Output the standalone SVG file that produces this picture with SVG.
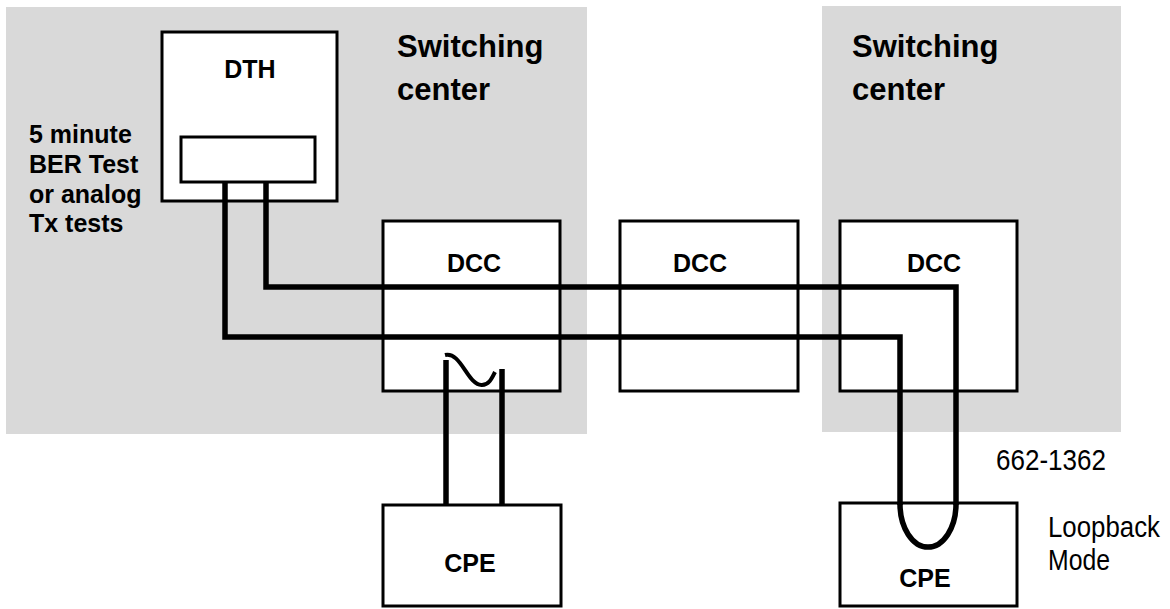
<svg xmlns="http://www.w3.org/2000/svg" width="1170" height="609" viewBox="0 0 1170 609">
  <style>
    .zone { fill: #d9d9d9; stroke: none; }
    .box { fill: #ffffff; stroke: #000000; stroke-width: 3; }
    .wire { fill: none; stroke: #000000; stroke-width: 5.5; stroke-linejoin: miter; stroke-linecap: butt; }
    .bold { font-family: "Liberation Sans", Arial, sans-serif; font-weight: bold; fill: #000000; }
    .lbl { font-size: 25px; }
    .big { font-size: 31px; }
    .note { font-family: "Liberation Sans", Arial, sans-serif; font-size: 30px; fill: #000000; }
  </style>

  <!-- switching center zones -->
  <g id="zones">
    <rect class="zone" x="6" y="7" width="581" height="427"/>
    <rect class="zone" x="822" y="6" width="299" height="426"/>
    <text class="bold big" x="397" y="57">Switching</text>
    <text class="bold big" x="397" y="100">center</text>
    <text class="bold big" x="852" y="57">Switching</text>
    <text class="bold big" x="852" y="100">center</text>
  </g>

  <!-- test head -->
  <g id="dth">
    <rect class="box" x="162" y="32" width="175" height="169"/>
    <rect class="box" x="181" y="137" width="134" height="45"/>
    <text class="bold lbl" x="250" y="78" text-anchor="middle">DTH</text>
  </g>

  <g id="test-note">
    <text class="bold lbl" x="29" y="143">5 minute</text>
    <text class="bold lbl" x="29" y="173">BER Test</text>
    <text class="bold lbl" x="29" y="203">or analog</text>
    <text class="bold lbl" x="29" y="232">Tx tests</text>
  </g>

  <g id="dcc-1">
    <rect class="box" x="383" y="221" width="177" height="170"/>
    <text class="bold lbl" x="474" y="272" text-anchor="middle">DCC</text>
  </g>
  <g id="dcc-2">
    <rect class="box" x="620" y="221" width="178" height="170"/>
    <text class="bold lbl" x="700" y="272" text-anchor="middle">DCC</text>
  </g>
  <g id="dcc-3">
    <rect class="box" x="840" y="221" width="177" height="170"/>
    <text class="bold lbl" x="934" y="272" text-anchor="middle">DCC</text>
  </g>

  <g id="cpe-1">
    <rect class="box" x="383" y="505" width="178" height="101"/>
    <text class="bold lbl" x="470" y="572" text-anchor="middle">CPE</text>
  </g>
  <g id="cpe-2">
    <rect class="box" x="840" y="503" width="177" height="103"/>
    <text class="bold lbl" x="925" y="587" text-anchor="middle">CPE</text>
  </g>

  <!-- circuit wiring -->
  <g id="connectors">
    <path class="wire" d="M266,182 V287 H956 V505"/>
    <path class="wire" d="M225,182 V337 H900 V505"/>
    <path class="wire" d="M900,504 A28,43 0 0 0 956,504"/>
    <path class="wire" d="M446,360 V505"/>
    <path class="wire" d="M502,369 V505"/>
    <path class="wire" style="stroke-width:4" d="M445,355 C461,351 468,386 482,385 C489,385 492,378 495,372"/>
  </g>

  <g id="annotations">
    <text class="note" x="996" y="470" textLength="110" lengthAdjust="spacingAndGlyphs">662-1362</text>
    <text class="note" x="1048" y="537" textLength="112" lengthAdjust="spacingAndGlyphs">Loopback</text>
    <text class="note" x="1048" y="570" textLength="62" lengthAdjust="spacingAndGlyphs">Mode</text>
  </g>
</svg>
